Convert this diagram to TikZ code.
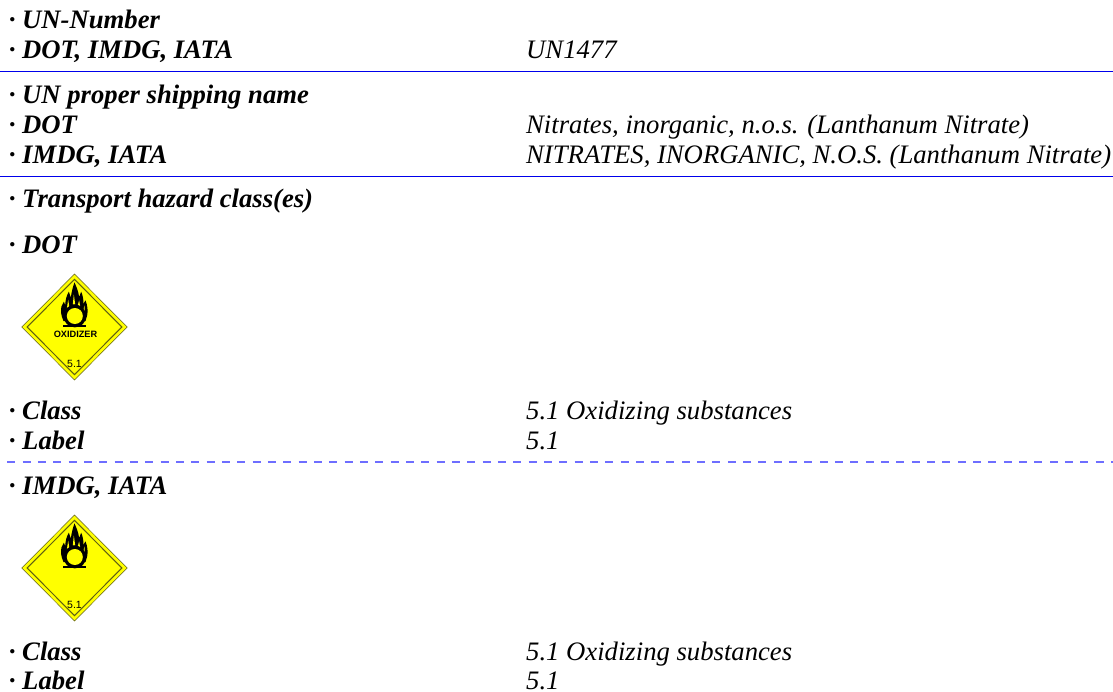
\documentclass[tikz,border=0pt]{standalone}
\usepackage{fontspec}
\setmainfont{Liberation Serif}
\newfontfamily\arialf{Liberation Sans}
\definecolor{rulebl}{RGB}{0,0,235}
\definecolor{dashbl}{RGB}{110,110,255}
\definecolor{placy}{RGB}{255,255,0}
\definecolor{placb}{RGB}{95,95,20}
\newcommand{\placard}[2]{%
\begin{scope}[shift={(#1,#2)},x=0.3333pt,y=-0.3333pt]
 \fill[placy] (0,-159)--(158,0)--(0,159)--(-158,0)--cycle;
 \draw[placb,line width=0.5pt] (0,-159)--(158,0)--(0,159)--(-158,0)--cycle;
 \draw[placb,line width=1pt] (0,-143)--(142,0)--(0,143)--(-142,0)--cycle;
 \fill[black] (-33,-18) .. controls (-41,-35) and (-42,-50) .. (-39,-62)
   -- (-32,-76) -- (-28,-66) .. controls (-27,-80) and (-24,-95) .. (-17,-106)
   -- (-11,-88) .. controls (-9,-105) and (-5,-120) .. (0,-134)
   .. controls (5,-122) and (11,-110) .. (14,-90)
   -- (20,-106) .. controls (25,-95) and (27,-82) .. (27,-70)
   -- (33,-80) .. controls (39,-65) and (41,-48) .. (38,-35)
   -- (33,-18) -- cycle;
 \fill[placy] (-23,-55) -- (-19,-82) -- (-15,-58) -- cycle;
 \fill[placy] (-5,-68) -- (-2,-98) -- (2,-68) -- cycle;
 \fill[placy] (10,-66) -- (14,-80) -- (17,-62) -- cycle;
 \fill[placy] (26,-50) -- (30,-64) -- (31,-42) -- cycle;
 \fill[black] (1,-33) circle[radius=34];
 \fill[placy] (1,-33) circle[radius=24];
 \fill[black] (-35,-7) rectangle (35,0);
\end{scope}%
}
\tikzset{
 lab/.style={anchor=base west,inner sep=0pt,font=\fontsize{26.67}{30}\selectfont\bfseries\itshape},
 val/.style={anchor=base west,inner sep=0pt,font=\fontsize{26.67}{30}\selectfont\itshape},
 solidrule/.style={fill=rulebl,draw=none},
 dashrule/.style={color=dashbl,line width=1.5pt,dash pattern=on 8pt off 7.33pt},
 plnum/.style={anchor=base,inner sep=0pt,text=black,font=\arialf\fontsize{10.5}{12}\selectfont},
 plword/.style={anchor=base,inner sep=0pt,font=\arialf\bfseries\fontsize{9.2}{11}\selectfont},
}
\begin{document}
\begin{tikzpicture}[x=1pt,y=-1pt]
\useasboundingbox (0,0) rectangle (1113,691);
\coordinate (l1a) at (0,70.8); \coordinate (l1b) at (1113,72.4);
\fill[solidrule] (l1a) rectangle (l1b);
\coordinate (l2a) at (0,175.8); \coordinate (l2b) at (1113,177.4);
\fill[solidrule] (l2a) rectangle (l2b);
\coordinate (l3a) at (7.3,462); \coordinate (l3b) at (1113,462);
\draw[dashrule] (l3a) -- (l3b);
\node[lab] (a1) at (8.7,28) {\textperiodcentered\ UN-Number};
\node[lab] (a2) at (8.7,58) {\textperiodcentered\ DOT, IMDG, IATA};
\node[val] (v2) at (526,58) {UN1477};
\node[lab] (b1) at (8.7,103) {\textperiodcentered\ UN proper shipping name};
\node[lab] (b2) at (8.7,133) {\textperiodcentered\ DOT};
\node[val] (w2) at (526,133) {Nitrates, inorganic, n.o.s. (Lanthanum Nitrate)};
\node[lab] (b3) at (8.7,163) {\textperiodcentered\ IMDG, IATA};
\node[val] (w3) at (526,163) {NITRATES, INORGANIC, N.O.S. (Lanthanum Nitrate)};
\node[lab] (c1) at (8.7,207.5) {\textperiodcentered\ Transport hazard class(es)};
\node[lab] (c2) at (8.7,253.5) {\textperiodcentered\ DOT};
\placard{74.5}{327}
\node[plword] (ox) at (75.5,337.3) {OXIDIZER};
\node[plnum] (n1) at (74.5,367.3) {5.1};
\node[lab] (d1) at (8.7,419) {\textperiodcentered\ Class};
\node[val] (x1) at (526,419) {5.1 Oxidizing substances};
\node[lab] (d2) at (8.7,449) {\textperiodcentered\ Label};
\node[val] (x2) at (526,449) {5.1};
\node[lab] (e1) at (8.7,494) {\textperiodcentered\ IMDG, IATA};
\placard{74.5}{568}
\node[plnum] (n2) at (74.5,608) {5.1};
\node[lab] (f1) at (8.7,660.5) {\textperiodcentered\ Class};
\node[val] (y1) at (526,660.5) {5.1 Oxidizing substances};
\node[lab] (f2) at (8.7,689.5) {\textperiodcentered\ Label};
\node[val] (y2) at (526,689.5) {5.1};
\end{tikzpicture}
\end{document}
